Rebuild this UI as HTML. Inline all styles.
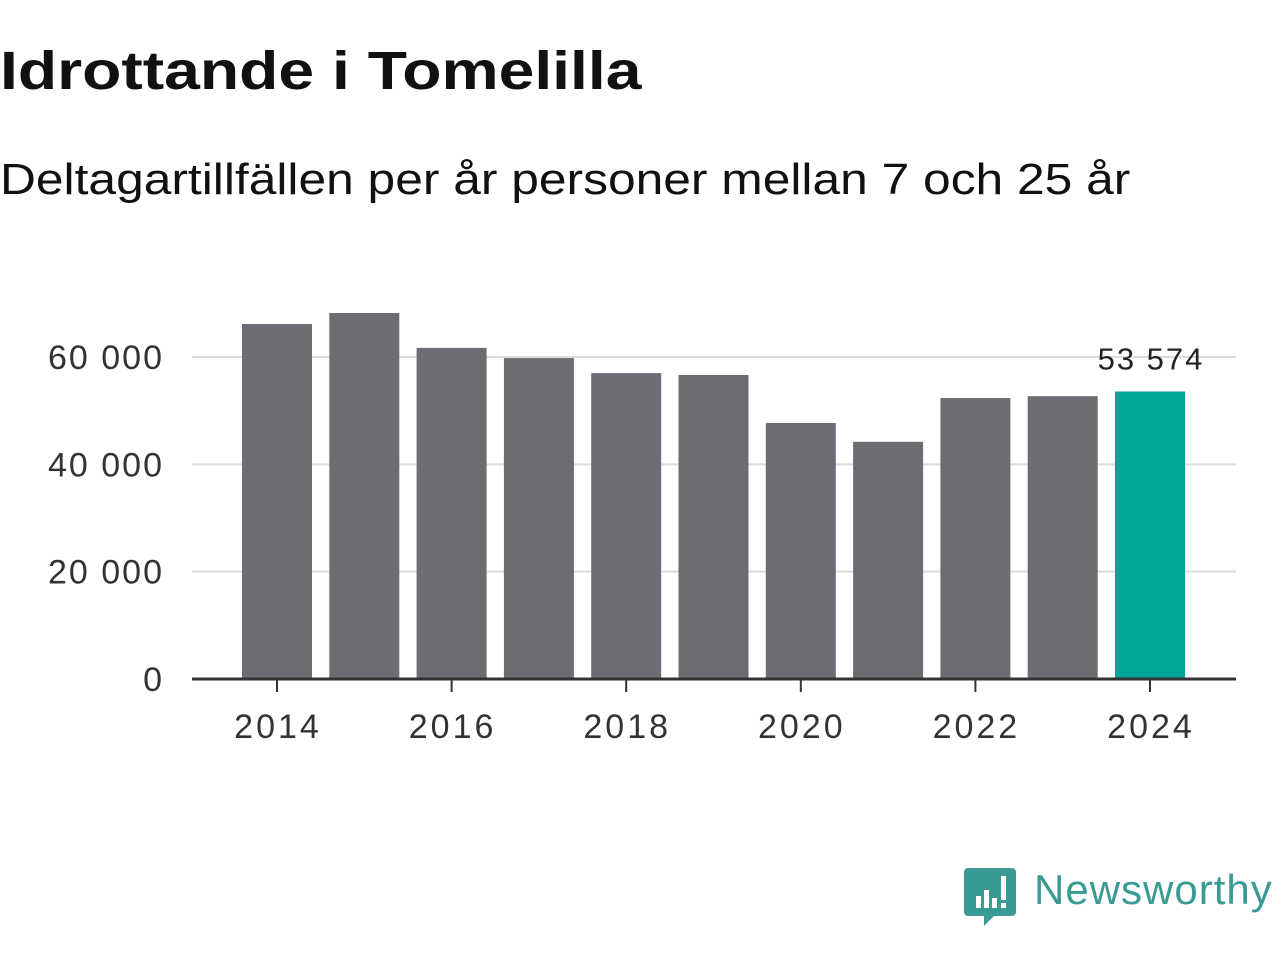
<!DOCTYPE html>
<html><head><meta charset="utf-8"><style>
body{margin:0;width:1280px;height:960px;background:#fff;font-family:"Liberation Sans","DejaVu Sans",sans-serif;overflow:hidden;position:relative}
#title{position:absolute;left:0;top:40px;font-size:54px;font-weight:bold;color:#111;margin:0;transform-origin:0 0;transform:scaleX(1.19);white-space:nowrap}
#subtitle{position:absolute;left:0;top:155px;font-size:44px;color:#111;transform-origin:0 0;transform:scaleX(1.13);white-space:nowrap}
</style></head><body>
<h1 id="title">Idrottande i Tomelilla</h1>
<div id="subtitle">Deltagartillfällen per år personer mellan 7 och 25 år</div>
<svg id="chart" width="1280" height="960" style="position:absolute;left:0;top:0"></svg>
<svg width="320" height="80" style="position:absolute;left:960px;top:860px">
<path d="M8 8 h44 a4 4 0 0 1 4 4 v40 a4 4 0 0 1 -4 4 h-18 l-10 10 v-10 h-16 a4 4 0 0 1 -4 -4 v-40 a4 4 0 0 1 4 -4z" fill="#3a9b94"/>
<rect x="16" y="36" width="5" height="12" fill="#fff"/><rect x="24" y="30" width="5" height="18" fill="#fff"/><rect x="32" y="38" width="5" height="10" fill="#fff"/><rect x="41" y="16" width="5" height="24" fill="#fff"/><rect x="41" y="43" width="5" height="5" fill="#fff"/>
<text x="74" y="44" font-size="42" letter-spacing="1" fill="#3a9b94" font-family="Liberation Sans, sans-serif">Newsworthy</text>
</svg>
<script>
const years=[2014,2015,2016,2017,2018,2019,2020,2021,2022,2023,2024];
const values=[66150,68200,61700,59800,57000,56650,47700,44200,52350,52700,53574];
const yTicks=[0,20000,40000,60000];
const xTickYears=[2014,2016,2018,2020,2022,2024];
const svg=document.getElementById('chart');
const NS='http://www.w3.org/2000/svg';
const y0=679,pxPer=322/60000,x0=277,step=87.3,bw=70;
const yS=v=>y0-v*pxPer, xS=yr=>x0+(yr-2014)*step;
const fmt=v=>v===0?'0':String(v).replace(/\B(?=(\d{3})+(?!\d))/g,' ');
function mk(t,a){const e=document.createElementNS(NS,t);for(const k in a)e.setAttribute(k,a[k]);svg.appendChild(e);return e;}
yTicks.forEach(v=>{
 if(v>0){const g=mk('line',{x1:192,x2:1236,y1:yS(v),y2:yS(v),stroke:'#dcdcdc','stroke-width':2});
 
 }
 const t=mk('text',{x:164,y:yS(v)+12,'text-anchor':'end','font-size':34,'letter-spacing':2,fill:'#333'});t.textContent=fmt(v);
 
 
});
years.forEach((yr,i)=>{
 const r=mk('rect',{x:xS(yr)-bw/2,y:yS(values[i]),width:bw,height:y0-yS(values[i]),fill:i===years.length-1?'#00a59a':'#6d6c72'});
 
 
});
const last=values.length-1;
const lbl=mk('text',{x:xS(years[last])+1,y:yS(values[last])-22,'text-anchor':'middle','font-size':31,'letter-spacing':2,fill:'#222'});lbl.textContent=fmt(values[last]);


const ax=mk('line',{x1:192,x2:1236,y1:y0,y2:y0,stroke:'#333','stroke-width':3});


xTickYears.forEach(yr=>{
 const tk=mk('line',{x1:xS(yr),x2:xS(yr),y1:y0,y2:y0+13,stroke:'#333','stroke-width':2});
 
 
 const t=mk('text',{x:xS(yr)+1,y:738,'text-anchor':'middle','font-size':34,'letter-spacing':3,fill:'#333'});t.textContent=yr;
 
 
});
</script>
</body></html>
